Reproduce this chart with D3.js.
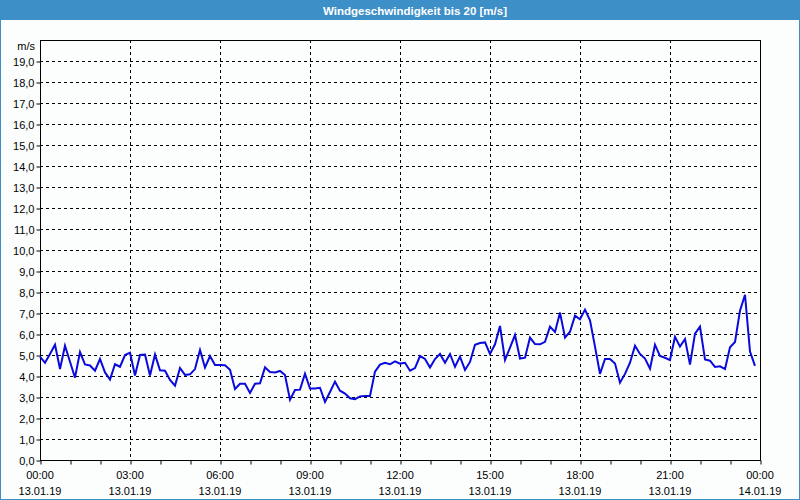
<!DOCTYPE html>
<html>
<head>
<meta charset="utf-8">
<script src="https://cdn.jsdelivr.net/npm/d3@7"></script>
<style>
  html, body { margin: 0; padding: 0; background: #fcfefd; }
  svg { display: block; }
  text { font-family: "Liberation Sans", Arial, sans-serif; }
</style>
</head>
<body>
<svg id="chart" width="800" height="500"></svg>
<script>
const title = "Windgeschwindigkeit bis 20 [m/s]";
const unitLabel = "m/s";
const startTime = "2019-01-13T00:00:00";
const endTime = "2019-01-14T00:00:00";
const stepMinutes = 10;
const yTicks = [0,1,2,3,4,5,6,7,8,9,10,11,12,13,14,15,16,17,18,19];
const windSpeed = [
  4.92, 4.63, 5.05, 5.49, 4.33, 5.44, 4.68, 3.92, 5.14, 4.55,
  4.50, 4.25, 4.81, 4.17, 3.83, 4.56, 4.44, 5.00, 5.11, 4.02,
  5.00, 5.02, 4.02, 5.02, 4.27, 4.25, 3.81, 3.54, 4.38, 4.05,
  4.08, 4.33, 5.24, 4.40, 4.95, 4.52, 4.52, 4.51, 4.30, 3.38,
  3.63, 3.63, 3.19, 3.63, 3.65, 4.41, 4.19, 4.17, 4.24, 4.05,
  2.87, 3.33, 3.35, 4.11, 3.40, 3.40, 3.44, 2.76, 3.24, 3.73,
  3.30, 3.16, 2.94, 2.90, 3.03, 3.05, 3.05, 4.21, 4.54, 4.63,
  4.56, 4.70, 4.59, 4.63, 4.25, 4.38, 4.95, 4.81, 4.40, 4.81,
  5.05, 4.63, 5.05, 4.44, 4.92, 4.29, 4.67, 5.49, 5.57, 5.60,
  5.05, 5.51, 6.38, 4.76, 5.35, 5.95, 4.83, 4.87, 5.83, 5.52,
  5.51, 5.63, 6.35, 6.10, 7.02, 5.83, 6.11, 6.87, 6.70, 7.16,
  6.65, 5.40, 4.10, 4.81, 4.81, 4.59, 3.68, 4.10, 4.63, 5.44,
  5.05, 4.83, 4.35, 5.49, 4.95, 4.87, 4.76, 5.87, 5.40, 5.76,
  4.54, 6.02, 6.35, 4.79, 4.73, 4.43, 4.46, 4.33, 5.37, 5.62,
  7.11, 7.87, 5.16, 4.48
];

const svg = d3.select("#chart");
const W = 800, H = 500;
const m = { left: 40, right: 40, top: 40, bottom: 40 };

// frame and title bar
svg.append("rect").attr("x", 0).attr("y", 0).attr("width", W).attr("height", H).attr("fill", "#fcfefd");
svg.append("rect").attr("x", 0).attr("y", 0).attr("width", W).attr("height", 20).attr("fill", "#3d8fc7");
svg.append("rect").attr("x", 0.5).attr("y", 0.5).attr("width", W - 1).attr("height", H - 1)
  .attr("fill", "none").attr("stroke", "#3d8fc7").attr("stroke-width", 1);
svg.append("text").attr("x", 415).attr("y", 14.5).attr("text-anchor", "middle")
  .attr("fill", "#ffffff").attr("font-weight", "bold").attr("font-size", "11.5px").text(title);

const t0 = new Date(startTime), t1 = new Date(endTime);
const x = d3.scaleTime().domain([t0, t1]).range([m.left, W - m.right]);
const y = d3.scaleLinear().domain([0, 20]).range([H - m.bottom, m.top]);

const data = windSpeed.map((v, i) => ({ t: new Date(t0.getTime() + i * stepMinutes * 60000), v }));

// grid
const g = svg.append("g");
g.selectAll("line.hg").data(yTicks.filter(d => d > 0)).join("line")
  .attr("x1", m.left).attr("x2", W - m.right)
  .attr("y1", d => Math.round(y(d)) + 0.5).attr("y2", d => Math.round(y(d)) + 0.5)
  .attr("stroke", "#000").attr("stroke-width", 1).attr("stroke-dasharray", "3,3");
const majorTimes = d3.timeHour.every(3).range(t0, d3.timeMinute.offset(t1, 1));
g.selectAll("line.vg").data(majorTimes.filter(d => d > t0 && d < t1)).join("line")
  .attr("x1", d => Math.round(x(d)) + 0.5).attr("x2", d => Math.round(x(d)) + 0.5)
  .attr("y1", m.top).attr("y2", H - m.bottom)
  .attr("stroke", "#000").attr("stroke-width", 1).attr("stroke-dasharray", "3,3");

// plot box
svg.append("rect").attr("x", m.left + 0.5).attr("y", m.top + 0.5)
  .attr("width", W - m.left - m.right).attr("height", H - m.top - m.bottom)
  .attr("fill", "none").attr("stroke", "#000").attr("stroke-width", 1);

// y axis
const yAxis = d3.axisLeft(y).tickValues(yTicks).tickSize(4).tickPadding(2)
  .tickFormat(d => d3.format(".1f")(d).replace(".", ","));
const ya = svg.append("g").attr("transform", `translate(${m.left + 0.5},0.5)`).call(yAxis);
ya.select(".domain").remove();
ya.selectAll("text").attr("font-size", "11px").attr("fill", "#000")
  .attr("font-family", "'Liberation Sans', Arial, sans-serif");
svg.append("text").attr("x", 35).attr("y", 50).attr("text-anchor", "end")
  .attr("font-size", "11px").attr("fill", "#000").text(unitLabel);

// x axis
const hourTicks = d3.timeHour.every(1).range(t0, d3.timeMinute.offset(t1, 1));
const xAxis = d3.axisBottom(x).tickValues(hourTicks).tickSize(4).tickFormat("");
const xa = svg.append("g").attr("transform", `translate(0.5,${H - m.bottom + 0.5})`).call(xAxis);
xa.select(".domain").remove();
const fmtTime = d3.timeFormat("%H:%M"), fmtDate = d3.timeFormat("%d.%m.%y");
const xl = svg.append("g").selectAll("text").data(majorTimes).join("text")
  .attr("x", d => x(d)).attr("text-anchor", "middle").attr("font-size", "11px").attr("fill", "#000");
xl.append("tspan").attr("x", d => x(d)).attr("y", 479).text(d => fmtTime(d));
xl.append("tspan").attr("x", d => x(d)).attr("y", 494.5).text(d => fmtDate(d));

// line
const line = d3.line().x(d => x(d.t)).y(d => y(d.v));
svg.append("path").datum(data).attr("d", line)
  .attr("fill", "none").attr("stroke", "#0a0adc").attr("stroke-width", 2)
  .attr("stroke-linejoin", "miter");
</script>
</body>
</html>
